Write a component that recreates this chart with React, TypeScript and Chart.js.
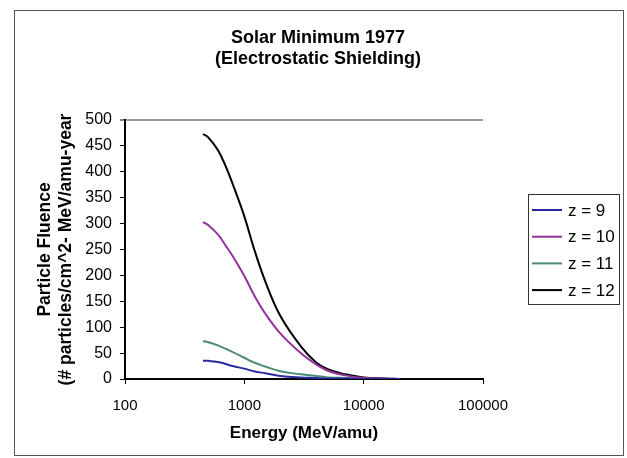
import { useEffect, useRef } from "react";
import { Chart, registerables } from "chart.js";

Chart.register(...registerables);

// ---- data ----
const energies = [450, 500, 600, 700, 800, 1000, 1200, 1500, 2000, 3000, 4000, 5000, 7000, 10000, 15000, 20000];
const z9 = [35, 35, 33, 29, 25, 20, 15, 11, 6, 3, 2, 1, 1, 0, 0, 0];
const z10 = [303, 297, 279, 257, 237, 199, 163, 126, 88, 49, 28, 16, 7, 2, 1, 0];
const z11 = [73, 71, 65, 58, 52, 41, 32, 24, 15, 9, 6, 3, 2, 1, 0, 0];
const z12 = [473, 466, 442, 410, 376, 314, 253, 188, 122, 62, 32, 19, 9, 3, 1, 0];
const seriesLabels = ["z = 9", "z = 10", "z = 11", "z = 12"];
const seriesColors = ["#2a2a9c", "#93339a", "#4d8c72", "#000000"];
const xTickValues = [100, 1000, 10000, 100000];
const yMin = 0;
const yMax = 500;
const yStep = 50;
const titleLines = ["Solar Minimum 1977", "(Electrostatic Shielding)"];
const yTitleLines = ["Particle Fluence", "(# particles/cm^2- MeV/amu-year"];
const xTitle = "Energy (MeV/amu)";

const FONT = "'Liberation Sans', Arial, Helvetica, sans-serif";

const boxLegend = {
  id: "boxLegend",
  afterDraw(chart: any) {
    const ctx = chart.ctx;
    ctx.save();
    ctx.strokeStyle = "#333";
    ctx.lineWidth = 1;
    ctx.strokeRect(528.5, 194.5, 91, 110);
    ctx.font = `17px ${FONT}`;
    ctx.textBaseline = "middle";
    ctx.textAlign = "left";
    chart.data.datasets.forEach((ds: any, i: number) => {
      const y = 210 + i * 26.7;
      ctx.strokeStyle = ds.borderColor;
      ctx.lineWidth = 2;
      ctx.beginPath();
      ctx.moveTo(532, y);
      ctx.lineTo(562, y);
      ctx.stroke();
      ctx.fillStyle = "#000";
      ctx.fillText(ds.label, 568, y + 1);
    });
    ctx.restore();
  },
};

export default function App() {
  const ref = useRef<HTMLCanvasElement>(null);

  useEffect(() => {
    const series = [z9, z10, z11, z12];
    const chart = new Chart(ref.current as HTMLCanvasElement, {
      type: "line",
      data: {
        datasets: series.map((vals, i) => ({
          label: seriesLabels[i],
          data: energies.map((e, j) => ({ x: e, y: vals[j] })),
          borderColor: seriesColors[i],
          backgroundColor: seriesColors[i],
          borderWidth: 2,
          pointRadius: 0,
          tension: 0.4,
          fill: false,
          yAxisID: "y",
          xAxisID: "x",
        })),
      },
      options: {
        animation: false,
        responsive: false,
        devicePixelRatio: 1,
        layout: { padding: { left: 9, right: 0, top: 0, bottom: 0 } },
        plugins: {
          legend: { display: false },
          tooltip: { enabled: false },
          title: {
            display: true,
            text: titleLines,
            color: "#000",
            font: { family: FONT, size: 18, weight: "bold", lineHeight: 1.2 },
            padding: { top: 27, bottom: 49.8 },
          },
        },
        scales: {
          y: {
            type: "linear",
            position: "left",
            min: yMin,
            max: yMax,
            ticks: {
              stepSize: yStep,
              color: "#000",
              padding: 8,
              font: { family: FONT, size: 16 },
            },
            grid: {
              drawOnChartArea: true,
              color: (c: any) => (c.tick && c.tick.value === yMax ? "#9a9a9a" : "rgba(0,0,0,0)"),
              lineWidth: (c: any) => (c.tick && c.tick.value === yMax ? 2 : 1),
              tickColor: "#000",
              tickWidth: 1,
              tickLength: 5,
            },
            border: { display: true, color: "#000", width: 2 },
            title: {
              display: true,
              text: yTitleLines,
              color: "#000",
              font: { family: FONT, size: 17.5, weight: "bold", lineHeight: 1.2 },
              padding: { top: 25.5, bottom: 0 },
            },
            afterFit: (s: any) => {
              s.width = 116;
            },
          },
          x: {
            type: "logarithmic",
            position: "bottom",
            min: xTickValues[0],
            max: xTickValues[xTickValues.length - 1],
            afterBuildTicks: (s: any) => {
              s.ticks = xTickValues.map((v) => ({ value: v }));
            },
            ticks: {
              autoSkip: false,
              maxRotation: 0,
              color: "#000",
              padding: 13,
              font: { family: FONT, size: 15 },
              callback: (v: any) => String(v),
            },
            grid: {
              drawOnChartArea: false,
              color: "#000",
              tickColor: "#000",
              tickLength: 5,
              lineWidth: 1,
            },
            border: { display: true, color: "#000", width: 2 },
            title: {
              display: true,
              text: xTitle,
              color: "#000",
              font: { family: FONT, size: 17, weight: "bold", lineHeight: 1.2 },
              padding: { top: 0, bottom: 14.8 },
            },
            afterFit: (s: any) => {
              s.height = 79;
            },
          },
          legendSpace: {
            type: "linear",
            position: "right",
            display: true,
            grid: { display: false, drawTicks: false },
            ticks: { display: false },
            border: { display: false },
            afterFit: (s: any) => {
              s.width = 144;
            },
          },
        },
      },
      plugins: [boxLegend],
    } as any);
    return () => chart.destroy();
  }, []);

  return (
    <div style={{ position: "fixed", left: 0, top: 0, width: 627, height: 458, background: "#fff" }}>
      <div
        style={{
          position: "absolute",
          left: 14,
          top: 10,
          width: 610,
          height: 446,
          border: "1px solid #555",
          boxSizing: "border-box",
        }}
      />
      <canvas
        ref={ref}
        width={627}
        height={458}
        style={{ position: "absolute", left: 0, top: 0, width: 627, height: 458 }}
      />
    </div>
  );
}
